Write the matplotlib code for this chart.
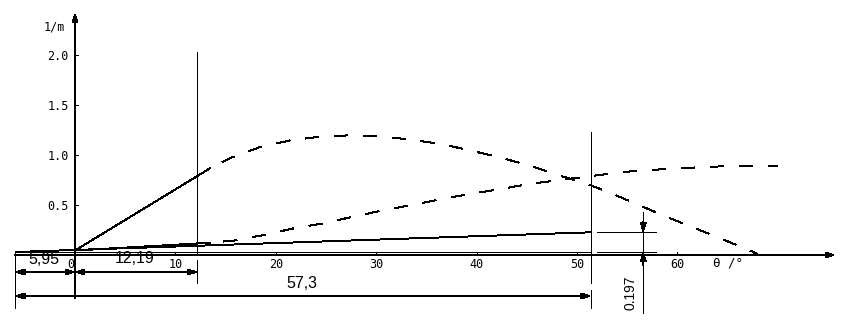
import matplotlib.pyplot as plt

plt.rcParams["lines.scale_dashes"] = False
plt.rcParams["lines.antialiased"] = False
plt.rcParams["patch.antialiased"] = False

# curvature curves (theta in degrees, k in 1/m)
upper_theta = [0, 13.5, 15.6, 18.4, 21.4, 24.4, 27.4, 30.4, 33.3, 36.3, 39.2,
               42.2, 45.1, 48.1, 51.3, 53.7, 56.8, 59.1, 61.9, 64.6, 67.4, 68.1]
upper_k = [0.045, 0.87, 0.975, 1.078, 1.145, 1.183, 1.197, 1.187, 1.155, 1.113, 1.05,
           0.978, 0.90, 0.80, 0.70, 0.605, 0.472, 0.375, 0.262, 0.153, 0.038, 0.0]

lower_theta = [0, 13.5, 15.9, 18.8, 21.8, 24.75, 27.7, 30.6, 33.5, 36.45, 39.4,
               42.3, 45.3, 48.3, 51.8, 54.8, 57.2, 60.2, 63.2, 66.2, 69.2, 70.0]
lower_k = [0.045, 0.123, 0.145, 0.20, 0.267, 0.317, 0.383, 0.445, 0.50, 0.558, 0.612,
           0.658, 0.712, 0.75, 0.795, 0.832, 0.85, 0.867, 0.883, 0.89, 0.89, 0.89]

# dimensions written on the drawing
dim_left = 5.95
dim_mid = 12.19
dim_total = 57.3
dim_rise = 0.197

x_ticks = [10, 20, 30, 40, 50, 60]
y_ticks = [0.5, 1.0, 1.5, 2.0]
y_tick_labels = ["0.5", "1.0", "1.5", "2.0"]

# drawing scale: origin at pixel (75, 255), 10.04 px per degree, 100 px per 1/m
PX = 10.04
PY = 100.0
LW = 0.7
DASH = (11.5, (10, 11.5))
MONO = "DejaVu Sans Mono"
SANS = "Liberation Sans"

fig = plt.figure(figsize=(8.48, 3.2), dpi=100)
ax = fig.add_axes([0, 0, 1, 1])
ax.set_xlim(-75 / PX, (848 - 75) / PX)
ax.set_ylim((255 - 320) / PY, 255 / PY)
ax.axis("off")


def arrow(x0, y0, x1, y1, style="<|-|>"):
    ax.annotate("", xy=(x1, y1), xytext=(x0, y0),
                arrowprops=dict(arrowstyle=style + ",head_length=0.55,head_width=0.17",
                                mutation_scale=10, color="black", lw=LW,
                                shrinkA=0, shrinkB=0))


def line(xs, ys, **kw):
    ax.plot(xs, ys, color="black", lw=LW, solid_capstyle="butt", **kw)


x_start = -dim_left
x_end = dim_total - dim_left
base = 0.03
top = base + dim_rise
x_dim = 56.6

# axes with arrows
arrow(x_start, 0, 75.7, 0, "-|>")
arrow(0, -0.43, 0, 2.42, "-|>")
for t in x_ticks:
    line([t, t], [0, 0.03])
for v in y_ticks:
    line([0, 0.3], [v, v])

# curves: solid near the origin, dashed beyond
line(upper_theta[:2], upper_k[:2])
line(upper_theta[1:], upper_k[1:], linestyle=DASH)
line(lower_theta[:2], lower_k[:2])
line(lower_theta[1:], lower_k[1:], linestyle=DASH)

# straight rise line and its extension lines
line([x_start, x_end], [base, top])
line([x_start, x_end], [base, base])
line([x_end + 0.6, 57.9], [base, base])
line([x_end + 0.6, 57.9], [top, top])

# vertical extension lines
line([x_start, x_start], [base, -0.53])
line([dim_mid, dim_mid], [2.03, 0.02])
line([dim_mid, dim_mid], [-0.05, -0.28])
line([x_end, x_end], [1.23, -0.28])
line([x_end, x_end], [-0.35, -0.53])

# dimension lines
arrow(x_start, -0.17, 0, -0.17)
arrow(0, -0.17, dim_mid, -0.17)
arrow(x_start, -0.41, x_end, -0.41)
line([x_dim, x_dim], [0.43, -0.58])
arrow(x_dim, 0.33, x_dim, top, "-|>")
arrow(x_dim, -0.10, x_dim, base, "-|>")

# labels
for t in x_ticks:
    ax.text(t, -0.10, str(t), ha="center", va="center", family=MONO, fontsize=8.5)
ax.text(-0.4, -0.10, "0", ha="center", va="center", family=MONO, fontsize=8.5)
for v, s in zip(y_ticks, y_tick_labels):
    ax.text(-0.6, v - 0.01, s, ha="right", va="center", family=MONO, fontsize=8.5)
ax.text(-2.1, 2.28, "1/m", ha="center", va="center", family=MONO, fontsize=8.5)
ax.text(65.0, -0.08, "θ /°", ha="center", va="center", family=MONO, fontsize=9)

ax.text(-3.1, -0.045, "5,95", ha="center", va="center", family=SANS, fontsize=11.5)
ax.text(5.9, -0.035, "12,19", ha="center", va="center", family=SANS, fontsize=11.5)
ax.text(22.6, -0.28, "57,3", ha="center", va="center", family=SANS, fontsize=11.5)
ax.text(55.3, -0.375, "0.197", ha="center", va="center", rotation=90,
        family=SANS, fontsize=10)

fig.savefig("out.png", dpi=100)
plt.close(fig)
